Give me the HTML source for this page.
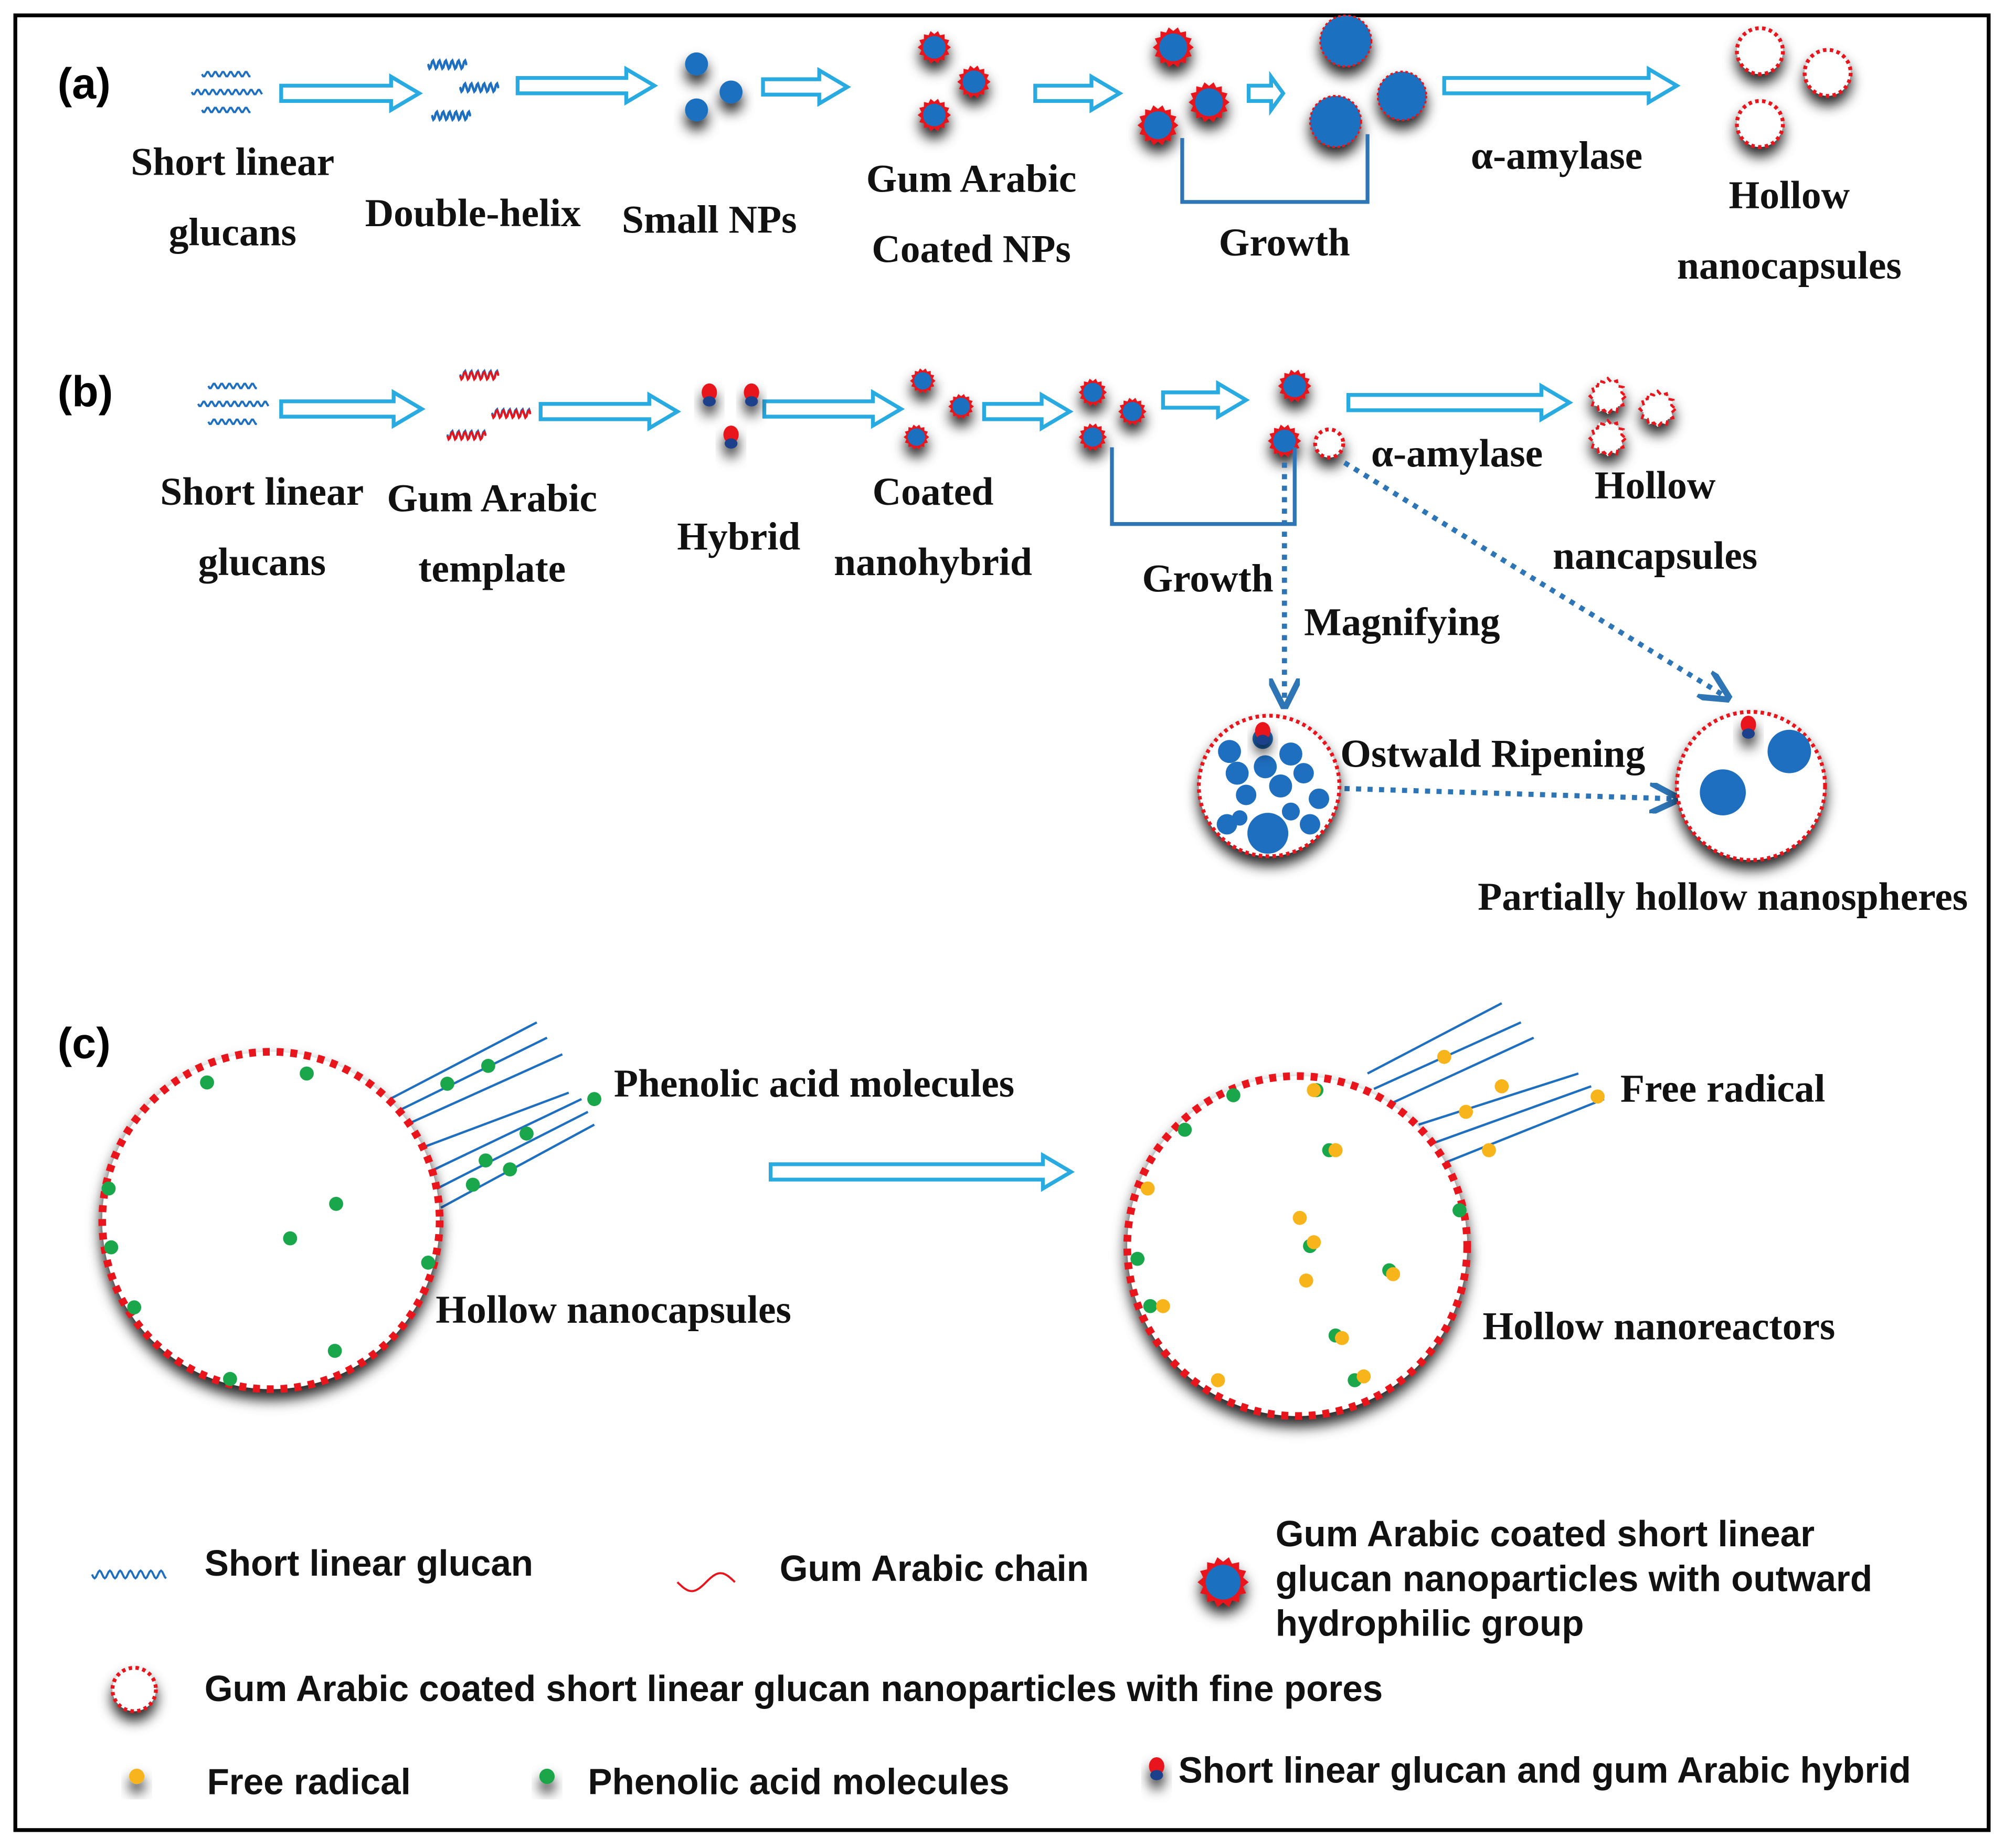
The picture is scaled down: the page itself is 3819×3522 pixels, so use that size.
<!DOCTYPE html>
<html><head><meta charset="utf-8">
<style>
html,body{margin:0;padding:0;background:#fff;}
svg{display:block;}
.s{font-family:"Liberation Serif",serif;font-weight:bold;font-size:31px;fill:#111;text-anchor:middle;}
.l{font-family:"Liberation Sans",sans-serif;font-weight:bold;font-size:34px;fill:#000;}
.g{font-family:"Liberation Sans",sans-serif;font-weight:bold;font-size:28.4px;fill:#111;}
</style></head>
<body>
<svg id="sv" width="3819" height="3522" viewBox="0 0 1568 1446" xmlns="http://www.w3.org/2000/svg">
<defs>
<filter id="sh" x="-50%" y="-50%" width="200%" height="250%"><feDropShadow dx="0" dy="7" stdDeviation="5" flood-color="#000" flood-opacity="0.85"/></filter>
<marker id="ah" viewBox="0 0 10 10" refX="8" refY="5" markerWidth="6" markerHeight="6" orient="auto"><path d="M0,0 L10,5 L0,10" fill="none" stroke="#2e75b6" stroke-width="2"/></marker>
</defs>
<rect x="12" y="12" width="1544" height="1420" fill="#fff" stroke="#000" stroke-width="3"/>
<g id="shapes"></g>
<text class="l" x="45" y="77">(a)</text>
<text class="l" x="45" y="318">(b)</text>
<text class="l" x="45" y="828">(c)</text>

<text class="s" x="182" y="137">Short linear</text><text class="s" x="182" y="192">glucans</text>
<text class="s" x="370" y="177">Double-helix</text>
<text class="s" x="555" y="182">Small NPs</text>
<text class="s" x="760" y="150">Gum Arabic</text><text class="s" x="760" y="205">Coated NPs</text>
<text class="s" x="1005" y="200">Growth</text>
<text class="s" x="1218" y="132">α-amylase</text>
<text class="s" x="1400" y="163">Hollow</text><text class="s" x="1400" y="218">nanocapsules</text>

<text class="s" x="205" y="395">Short linear</text><text class="s" x="205" y="450">glucans</text>
<text class="s" x="385" y="400">Gum Arabic</text><text class="s" x="385" y="455">template</text>
<text class="s" x="578" y="430">Hybrid</text>
<text class="s" x="730" y="395">Coated</text><text class="s" x="730" y="450">nanohybrid</text>
<text class="s" x="945" y="463">Growth</text>
<text class="s" x="1140" y="365">α-amylase</text>
<text class="s" x="1295" y="390">Hollow</text><text class="s" x="1295" y="445">nancapsules</text>
<text class="s" x="1097" y="497">Magnifying</text>
<text class="s" x="1168" y="600">Ostwald Ripening</text>
<text class="s" x="1348" y="712">Partially hollow nanospheres</text>

<text class="s" x="637" y="858">Phenolic acid molecules</text>
<text class="s" x="480" y="1035">Hollow nanocapsules</text>
<text class="s" x="1348" y="862">Free radical</text>
<text class="s" x="1298" y="1048">Hollow nanoreactors</text>

<text class="g" x="160" y="1233">Short linear glucan</text>
<text class="g" x="610" y="1237">Gum Arabic chain</text>
<text class="g" x="998" y="1210">Gum Arabic coated short linear</text>
<text class="g" x="998" y="1245">glucan nanoparticles with outward</text>
<text class="g" x="998" y="1280">hydrophilic group</text>
<text class="g" x="160" y="1331">Gum Arabic coated short linear glucan nanoparticles with fine pores</text>
<text class="g" x="162" y="1404">Free radical</text>
<text class="g" x="460" y="1404">Phenolic acid molecules</text>
<text class="g" x="922" y="1395">Short linear glucan and gum Arabic hybrid</text>
</svg>
<script>
var NS="http://www.w3.org/2000/svg",G=document.getElementById("shapes");
function el(t,a,p){var e=document.createElementNS(NS,t);for(var k in a)e.setAttribute(k,a[k]);(p||G).appendChild(e);return e;}
var BL="#1f6fc0",RD="#e8141b",CY="#29abe2";
function arrow(x1,x2,y){var h=6,H=13,L=Math.min(22,(x2-x1)*0.35);
 el("polygon",{points:[x1,y-h,x2-L,y-h,x2-L,y-H,x2,y,x2-L,y+H,x2-L,y+h,x1,y+h].join(" "),fill:"#fff",stroke:CY,"stroke-width":3,"stroke-linejoin":"miter"});}
function star(cx,cy,r,n,fill,stroke){var p=[];for(var i=0;i<2*n;i++){var a=Math.PI*i/n,rr=i%2?r*0.8:r;p.push((cx+rr*Math.cos(a)).toFixed(1)+","+(cy+rr*Math.sin(a)).toFixed(1));}
 return el("polygon",{points:p.join(" "),fill:fill,stroke:stroke||"none","stroke-width":2});}
function coated(cx,cy,r){var g=el("g",{filter:"url(#sh)"});star(cx,cy,r,14,RD).remove();g.appendChild(star(cx,cy,r,14,RD));el("circle",{cx:cx,cy:cy,r:r*0.68,fill:BL},g);}
function dotted(cx,cy,r,w,sh){var g=el("g",sh?{filter:"url(#sh)"}:{});el("circle",{cx:cx,cy:cy,r:r,fill:"#fff",stroke:RD,"stroke-width":w,"stroke-dasharray":(w*0.9)+" "+(w*0.9)},g);return g;}
function ball(cx,cy,r){el("circle",{cx:cx,cy:cy,r:r,fill:BL,filter:"url(#sh)"});}
function ballr(cx,cy,r){var g=el("g",{filter:"url(#sh)"});el("circle",{cx:cx,cy:cy,r:r,fill:BL,stroke:RD,"stroke-width":1.5,"stroke-dasharray":"2 2"},g);}
function wave(x,y,w,c,amp,per){var d="M"+x+","+y;for(var t=0;t<=w;t+=1)d+=" L"+(x+t)+","+(y+amp*Math.sin(t/per*2*Math.PI)).toFixed(1);el("path",{d:d,fill:"none",stroke:c,"stroke-width":1.6});}
function glucans(x,y){wave(x+8,y,38,BL,2,6);wave(x,y+14,55,BL,2,6);wave(x+8,y+28,38,BL,2,6);}
function helix(x,y,c2){wave(x,y,30,BL,3,5);wave(x,y+1,30,c2||BL,3,5);}
function pill(cx,cy){var g=el("g",{filter:"url(#sh)"});el("ellipse",{cx:cx,cy:cy-3,rx:6,ry:7,fill:RD},g);el("ellipse",{cx:cx,cy:cy+4,rx:5,ry:4,fill:"#1a3f8a"},g);}
function dot(cx,cy,c){el("circle",{cx:cx,cy:cy,r:5.5,fill:c});}
function sdot(cx,cy,c){el("circle",{cx:cx,cy:cy,r:6,fill:c,filter:"url(#sh)"});}
// row a
glucans(150,58);
helix(335,50);helix(360,68);helix(338,90);
arrow(220,328,73);arrow(405,512,67);arrow(597,663,68);arrow(810,876,73);arrow(977,1004,73);arrow(1130,1312,67);
ball(545,50,9);ball(572,72,9);ball(545,86,9);
coated(731,37,13);coated(762,64,13);coated(731,90,13);
coated(918,37,16);coated(946,80,16);coated(906,98,16);
ballr(1053,32,20);ballr(1097,75,19);ballr(1045,95,20);
el("polyline",{points:"925,108 925,158 1070,158 1070,105",fill:"none",stroke:"#2e75b6","stroke-width":3});
dotted(1377,40,18,3,1);dotted(1430,57,18,3,1);dotted(1377,97,18,3,1);
// row b
glucans(155,302);
helix(360,293,RD);helix(385,323,RD);helix(350,340,RD);
arrow(220,330,320);arrow(423,530,322);arrow(598,705,320);arrow(770,837,322);arrow(910,975,313);arrow(1055,1228,315);
pill(555,310);pill(588,310);pill(572,343);
coated(722,298,10);coated(752,318,10);coated(717,342,10);
coated(855,307,11);coated(886,322,11);coated(855,342,11);
coated(1013,302,13);coated(1005,345,13);
dotted(1040,347,11,3,1);
el("polyline",{points:"870,350 870,410 1013,410 1013,350",fill:"none",stroke:"#2e75b6","stroke-width":3});
[[1258,310],[1297,320],[1258,343]].forEach(function(p){var g=el("g",{filter:"url(#sh)"});g.appendChild(star(p[0],p[1],14,12,"#fff",RD)).setAttribute("stroke-dasharray","4 3");});
var da={stroke:"#2e75b6","stroke-width":4,"stroke-dasharray":"4 5",fill:"none","marker-end":"url(#ah)"};
function dl(x1,y1,x2,y2){var a=Object.assign({x1:x1,y1:y1,x2:x2,y2:y2},da);el("line",a);}
dl(1005,362,1005,550);dl(1052,362,1350,545);dl(1052,617,1310,625);
dotted(993,615,55,3,1);
[[962,588,9],[988,578,8],[1010,590,9],[968,605,9],[990,600,9],[1020,605,8],[975,622,8],[1002,615,9],[1032,625,8],[960,645,8],[1025,645,8],[992,652,16],[970,640,6],[1010,635,7]].forEach(function(b){el("circle",{cx:b[0],cy:b[1],r:b[2],fill:BL});});
pill(988,575);
dotted(1370,615,58,3,1);
el("circle",{cx:1400,cy:588,r:17,fill:BL});el("circle",{cx:1348,cy:620,r:18,fill:BL});pill(1368,570);
// row c
arrow(603,838,917);
function lines(pts){pts.forEach(function(p){el("line",{x1:p[0],y1:p[1],x2:p[2],y2:p[3],stroke:BL,"stroke-width":1.8});});}
lines([[305,860,420,800],[310,870,428,812],[318,880,440,825],[325,900,445,855],[340,915,455,860],[342,930,460,870],[345,945,465,880]]);
dotted(212,955,132,6,1);
[[162,847],[240,840],[350,848],[382,834],[465,860],[380,908],[412,887],[399,915],[370,927],[263,942],[227,969],[85,930],[87,976],[335,988],[105,1023],[262,1057],[180,1079]].forEach(function(p){dot(p[0],p[1],"#1aa64a");});
lines([[1070,840,1175,785],[1075,852,1190,800],[1085,865,1200,812],[1110,880,1235,840],[1120,895,1245,850],[1130,910,1255,860]]);
dotted(1015,975,133,6,1);
[[965,857,"g"],[927,884,"g"],[1142,947,"g"],[890,985,"g"],[1087,994,"g"],[1060,1080,"g"],[1045,1045,"g"],[1040,900,"g"],[1025,975,"g"],[900,1022,"g"],[1030,853,"g"]].forEach(function(p){dot(p[0],p[1],"#1aa64a");});
[[1130,827],[1175,850],[1147,870],[1165,900],[1250,858],[1028,853],[1045,900],[898,930],[1017,953],[1028,972],[1022,1002],[1090,997],[1050,1047],[1067,1077],[910,1022],[953,1080]].forEach(function(p){dot(p[0],p[1],"#f7b41b");});
// legend
wave(72,1232,58,BL,3,8);
wave(530,1238,45,RD,7,45);
coated(957,1238,20);
dotted(105,1322,17,3,1);
sdot(107,1390,"#f7b41b");sdot(428,1390,"#1aa64a");pill(905,1385);
</script>
</body></html>
